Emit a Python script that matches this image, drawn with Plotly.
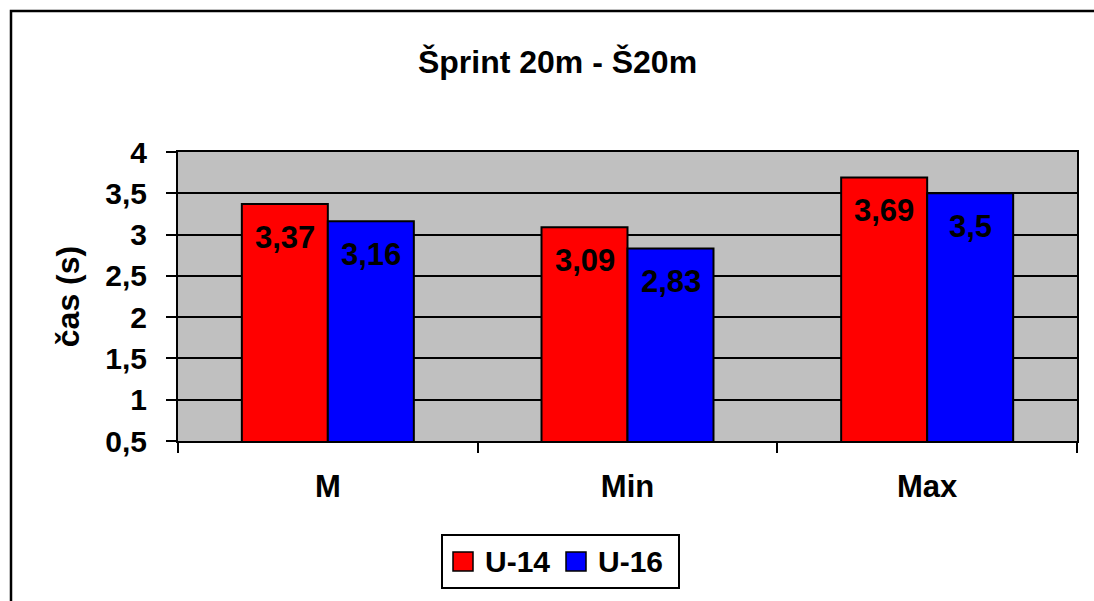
import plotly.graph_objects as go

# Sprint 20 m times (s) by statistic and age group
categories = ["M", "Min", "Max"]
series_names = ["U-14", "U-16"]
u14_times = [3.37, 3.09, 3.69]
u16_times = [3.16, 2.83, 3.50]
y_ticks = [0.5, 1, 1.5, 2, 2.5, 3, 3.5, 4]

colors = ["#FF0000", "#0000FF"]
FONT = "Liberation Sans, Arial, sans-serif"

W, H = 1094, 601
L, R, T, B = 178, 17, 152, 160
PW, PH = W - L - R, H - T - B


def px(x):
    """Horizontal pixel -> paper coordinate."""
    return (x - L) / PW


def py(y):
    """Vertical pixel (from top) -> paper coordinate."""
    return (H - B - y) / PH


BARGAP = 0.426
bar_w = (1 - BARGAP) / 2
offsets = [-bar_w / 2, bar_w / 2]

fig = go.Figure()
for name, vals, col in zip(series_names, [u14_times, u16_times], colors):
    fig.add_trace(go.Bar(
        name=name, x=categories, y=vals,
        marker=dict(color=col, line=dict(color="black", width=2)),
        showlegend=False,
    ))

annotations = []
# value labels inside the top of each bar
for vals, off in zip([u14_times, u16_times], offsets):
    for i, v in enumerate(vals):
        annotations.append(dict(
            x=i + off, y=v, xref="x", yref="y",
            text=str(v).replace(".", ","), showarrow=False,
            xanchor="center", yanchor="middle", yshift=-33,
            font=dict(family=FONT, size=31, color="black", weight="bold"),
        ))

# outer frame and legend box
shapes = [
    dict(type="rect", xref="paper", yref="paper",
         x0=px(11), y0=py(11), x1=px(1100), y1=py(610),
         line=dict(color="black", width=2.5), fillcolor="rgba(0,0,0,0)"),
    dict(type="rect", xref="paper", yref="paper",
         x0=px(442), y0=py(535), x1=px(679), y1=py(588),
         line=dict(color="black", width=2), fillcolor="white"),
]
legend_items = [(453, 483), (566, 596)]
for (sx, tx), name, col in zip(legend_items, series_names, colors):
    shapes.append(dict(type="rect", xref="paper", yref="paper",
                       x0=px(sx), y0=py(552), x1=px(sx + 20), y1=py(571),
                       line=dict(color="black", width=1.5), fillcolor=col))
    annotations.append(dict(
        x=px(tx), y=py(561.5), xref="paper", yref="paper",
        text=name, showarrow=False, xanchor="left", yanchor="middle",
        font=dict(family=FONT, size=30, color="black", weight="bold"),
    ))

fig.update_layout(
    width=W, height=H,
    margin=dict(l=L, r=R, t=T, b=B, autoexpand=False),
    paper_bgcolor="white", plot_bgcolor="#C0C0C0",
    barmode="group", bargap=BARGAP, bargroupgap=0,
    separators=", ",
    font=dict(family=FONT, color="black"),
    title=dict(
        text="Šprint 20m - Š20m",
        x=557.5 / W, xref="container", xanchor="center",
        y=1 - 62 / H, yref="container", yanchor="middle",
        font=dict(family=FONT, size=32, color="black", weight="bold"),
    ),
    xaxis=dict(
        type="category", tickson="boundaries",
        ticks="outside", ticklen=10, tickwidth=2, tickcolor="black",
        showline=True, linecolor="black", linewidth=2, mirror=True,
        showgrid=False, ticklabelstandoff=17,
        tickfont=dict(family=FONT, size=31, color="black", weight="bold"),
    ),
    yaxis=dict(
        range=[0.5, 4], tickvals=y_ticks,
        ticks="outside", ticklen=10, tickwidth=2, tickcolor="black",
        showline=True, linecolor="black", linewidth=2, mirror=True,
        showgrid=True, gridcolor="black", gridwidth=2,
        zeroline=False, ticklabelstandoff=13,
        tickfont=dict(family=FONT, size=30, color="black", weight="bold"),
        title=dict(text="čas (s)", standoff=16,
                   font=dict(family=FONT, size=32, color="black", weight="bold")),
    ),
    shapes=shapes,
    annotations=annotations,
)

fig.write_html("out.html")
